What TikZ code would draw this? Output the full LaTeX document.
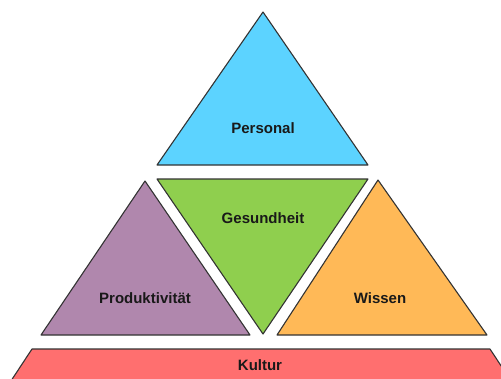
\documentclass[tikz,border=0pt]{standalone}
\usepackage{fontspec}
\setmainfont{Liberation Sans}
\begin{document}
\begin{tikzpicture}[x=1pt,y=-1pt,
  facet/.style={draw=black!80,line width=1.1pt,line join=round},
  tag/.style={font=\fontsize{15}{17}\selectfont\bfseries,text=black!90,inner sep=0pt}]
\definecolor{cPers}{HTML}{5CD3FF}
\definecolor{cGes}{HTML}{8FCF4E}
\definecolor{cProd}{HTML}{B087AD}
\definecolor{cWis}{HTML}{FFB957}
\definecolor{cKul}{HTML}{FF6F6F}
\useasboundingbox (0,0) rectangle (501,378);
\clip (0,0) rectangle (501,378);
% top triangle
\coordinate (p1) at (263,12);
\coordinate (p2) at (157,165);
\coordinate (p3) at (368,165);
\fill[cPers] (p1) -- (p2) -- (p3) -- cycle;
\draw[facet] (p1) -- (p2) -- (p3) -- cycle;
% left triangle
\coordinate (l1) at (145,181);
\coordinate (l2) at (41,335);
\coordinate (l3) at (250,335);
\fill[cProd] (l1) -- (l2) -- (l3) -- cycle;
\draw[facet] (l1) -- (l2) -- (l3) -- cycle;
% inverted middle triangle
\coordinate (g1) at (157,179);
\coordinate (g2) at (368,179);
\coordinate (g3) at (263,334);
\fill[cGes] (g1) -- (g2) -- (g3) -- cycle;
\draw[facet] (g1) -- (g2) -- (g3) -- cycle;
% right triangle
\coordinate (w1) at (378,180);
\coordinate (w2) at (277,335);
\coordinate (w3) at (487,335);
\fill[cWis] (w1) -- (w2) -- (w3) -- cycle;
\draw[facet] (w1) -- (w2) -- (w3) -- cycle;
% base band
\coordinate (k1) at (32,349);
\coordinate (k2) at (490,349);
\coordinate (k3) at (517,390);
\coordinate (k4) at (5,390);
\fill[cKul] (k1) -- (k2) -- (k3) -- (k4) -- cycle;
\draw[facet] (k1) -- (k2) -- (k3) -- (k4) -- cycle;
% labels
\node[tag] (personal) at (263,128) {Personal};
\node[tag] (gesundheit) at (263,218) {Gesundheit};
\node[tag] (produktivitaet) at (145,298) {Produktivität};
\node[tag] (wissen) at (380,298) {Wissen};
\node[tag] (kultur) at (260,365) {Kultur};
\end{tikzpicture}
\end{document}
